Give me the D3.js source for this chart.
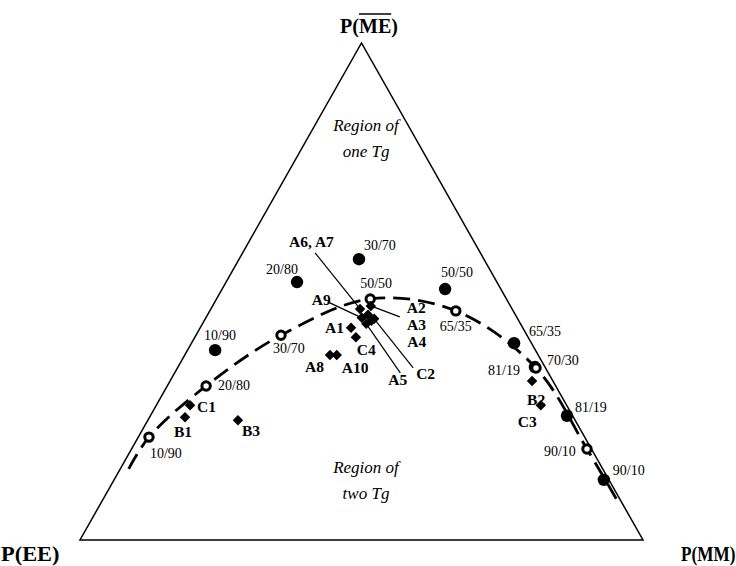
<!DOCTYPE html>
<html><head><meta charset="utf-8">
<script src="https://cdn.jsdelivr.net/npm/d3@7"></script>
<style>body{margin:0;background:#fff}svg{display:block}</style>
</head><body><svg id="chart" width="736" height="566"></svg>
<script>
// Compositions are fractions of the three dyads: P(EE), P(MM), P(ME-bar)

// Random-type copolymers (filled circles), labelled by comonomer ratio
const filledLabels = ["10/90", "20/80", "30/70", "50/50", "65/35", "70/30", "81/19", "90/10"];
const filledEE = [0.569, 0.355, 0.222, 0.099, 0.031, 0.018, 0.010, 0.009];
const filledMM = [0.049, 0.126, 0.213, 0.396, 0.573, 0.634, 0.740, 0.870];
const filledME = [0.382, 0.519, 0.565, 0.505, 0.396, 0.348, 0.250, 0.121];

// Reference compositions on the miscibility boundary (open circles)
const openLabels = ["10/90", "20/80", "30/70", "50/50", "65/35", "81/19", "90/10"];
const openEE = [0.774, 0.621, 0.437, 0.242, 0.102, 0.017, 0.008];
const openMM = [0.019, 0.069, 0.151, 0.273, 0.437, 0.637, 0.809];
const openME = [0.207, 0.310, 0.412, 0.485, 0.461, 0.346, 0.183];

// Boundary between one-Tg and two-Tg regions
const boundaryEE = [0.842, 0.774, 0.621, 0.437, 0.242, 0.102, 0.017, 0.008, 0.006];
const boundaryMM = [0.015, 0.019, 0.069, 0.151, 0.273, 0.437, 0.637, 0.809, 0.914];
const boundaryME = [0.143, 0.207, 0.310, 0.412, 0.485, 0.461, 0.346, 0.183, 0.080];

// Blend samples (diamonds)
const sampleLabels = ["A1", "C4", "A8", "A10", "A6, A7", "A2", "A9", "A3", "A4", "A5", "C2", "C1", "B1", "B3", "B2", "C3"];
const sampleEE = [0.305, 0.306, 0.370, 0.358, 0.270, 0.248, 0.276, 0.262, 0.262, 0.274, 0.255, 0.669, 0.690, 0.599, 0.037, 0.046];
const sampleMM = [0.268, 0.286, 0.258, 0.270, 0.265, 0.281, 0.277, 0.285, 0.297, 0.291, 0.300, 0.060, 0.063, 0.160, 0.643, 0.683];
const sampleME = [0.427, 0.408, 0.372, 0.372, 0.465, 0.471, 0.447, 0.453, 0.441, 0.435, 0.445, 0.271, 0.247, 0.241, 0.320, 0.271];

const cornerLabels = ["P(EE)", "P(MM)"];
const regionLabels = [["Region of", "one Tg"], ["Region of", "two Tg"]];

// Label placement (pixel offsets from each mark)
const filledLabelPos = {"10/90": [-11, -10], "20/80": [-31, -8], "30/70": [5, -9], "50/50": [-4, -12],
  "65/35": [15, -7], "70/30": [12, -2], "81/19": [8, -4], "90/10": [9, -5]};
const openLabelPos = [[1, 21], [12, 4], [-8, 18], [-10, -11], [-16, 20], [-48, 7], [-43, 7]];
const sampleLabelPos = {"A1": [-26, 5], "C4": [1, 18], "A8": [-25, 17], "A10": [5, 18], "A6, A7": [-71, -62],
  "A2": [36, 7], "A9": [-50, -13], "A3": [39, 15], "A4": [36, 26], "A5": [22, 61], "C2": [42, 60],
  "C1": [7, 7], "B1": [-11, 20], "B3": [4, 16], "B2": [-5, 24], "C3": [-23, 22]};
const leaderEnd = {"A6, A7": [-45, -56], "A9": [-34, -16], "A2": [29, 11], "A5": [34, 49], "C2": [39, 49]};

const svg = d3.select("#chart");
svg.append("rect").attr("width", 736).attr("height", 566).attr("fill", "#fff");

// Ternary projection: horizontal follows MM + ME/2, vertical follows ME
const x = d3.scaleLinear().domain([0, 1]).range([80, 643]);
const y = d3.scaleLinear().domain([0, 1]).range([540, 43]);
const proj = (mm, me) => [x(mm + me / 2), y(me)];

const serif = "'Liberation Serif', 'Times New Roman', serif";

// Triangle frame
const corners = [proj(0, 0), proj(1, 0), proj(0, 1)];
svg.append("path")
  .attr("d", d3.line()(corners) + "Z")
  .attr("fill", "none").attr("stroke", "#000").attr("stroke-width", 1.5)
  .attr("stroke-linejoin", "miter");

// Boundary curve
const boundary = boundaryMM.map((m, i) => proj(m, boundaryME[i]));
svg.append("path")
  .attr("d", d3.line().curve(d3.curveCatmullRom.alpha(0.5))(boundary))
  .attr("fill", "none").attr("stroke", "#000").attr("stroke-width", 2.8)
  .attr("stroke-dasharray", "17,8");

// Leader lines
sampleLabels.forEach((lab, i) => {
  if (!leaderEnd[lab]) return;
  const [px, py] = proj(sampleMM[i], sampleME[i]);
  svg.append("line")
    .attr("x1", px).attr("y1", py)
    .attr("x2", px + leaderEnd[lab][0]).attr("y2", py + leaderEnd[lab][1])
    .attr("stroke", "#000").attr("stroke-width", 1.2);
});

// Filled circles
filledLabels.forEach((lab, i) => {
  const [px, py] = proj(filledMM[i], filledME[i]);
  svg.append("circle").attr("cx", px).attr("cy", py).attr("r", 6.2).attr("fill", "#000");
  svg.append("text").attr("x", px + filledLabelPos[lab][0]).attr("y", py + filledLabelPos[lab][1])
    .attr("font-family", serif).attr("font-size", 14).text(lab);
});

// Open circles
openLabels.forEach((lab, i) => {
  const [px, py] = proj(openMM[i], openME[i]);
  svg.append("circle").attr("cx", px).attr("cy", py).attr("r", 4.2)
    .attr("fill", "#fff").attr("stroke", "#000").attr("stroke-width", 3);
  svg.append("text").attr("x", px + openLabelPos[i][0]).attr("y", py + openLabelPos[i][1])
    .attr("font-family", serif).attr("font-size", 14).text(lab);
});

// Diamonds
const diamond = d3.symbol().type(d3.symbolSquare).size(55);
sampleLabels.forEach((lab, i) => {
  const [px, py] = proj(sampleMM[i], sampleME[i]);
  svg.append("path").attr("d", diamond())
    .attr("transform", `translate(${px},${py}) rotate(45)`).attr("fill", "#000");
  svg.append("text").attr("x", px + sampleLabelPos[lab][0]).attr("y", py + sampleLabelPos[lab][1])
    .attr("font-family", serif).attr("font-size", 15.5).attr("font-weight", "bold").text(lab);
});

// Region captions
const regionY = [[131, 157], [473, 499]];
regionLabels.forEach((lines, k) => {
  lines.forEach((t, j) => {
    svg.append("text").attr("x", 366).attr("y", regionY[k][j])
      .attr("text-anchor", "middle").attr("font-family", serif)
      .attr("font-size", 17).attr("font-style", "italic").text(t);
  });
});

// Corner titles
svg.append("text").attr("transform", "translate(1,561) scale(1.12,1)")
  .attr("font-family", serif).attr("font-size", 20).attr("font-weight", "bold")
  .text(cornerLabels[0]);
svg.append("text").attr("transform", "translate(681,561) scale(0.86,1)")
  .attr("font-family", serif).attr("font-size", 20).attr("font-weight", "bold")
  .text(cornerLabels[1]);

// Apex title with overlined ME
const apexTitle = svg.append("text").attr("x", 369).attr("y", 33).attr("text-anchor", "middle")
  .attr("font-family", serif).attr("font-size", 20).attr("font-weight", "bold");
apexTitle.append("tspan").text("P(");
apexTitle.append("tspan").text("ME");
apexTitle.append("tspan").text(")");
const titleNode = apexTitle.node();
const titleBox = titleNode.getBBox();
const overStart = titleBox.x + titleNode.getSubStringLength(0, 2);
const overWidth = titleNode.getSubStringLength(2, 2);
svg.append("line").attr("x1", overStart).attr("x2", overStart + overWidth)
  .attr("y1", 14).attr("y2", 14).attr("stroke", "#000").attr("stroke-width", 1.6);
</script>
</body></html>
